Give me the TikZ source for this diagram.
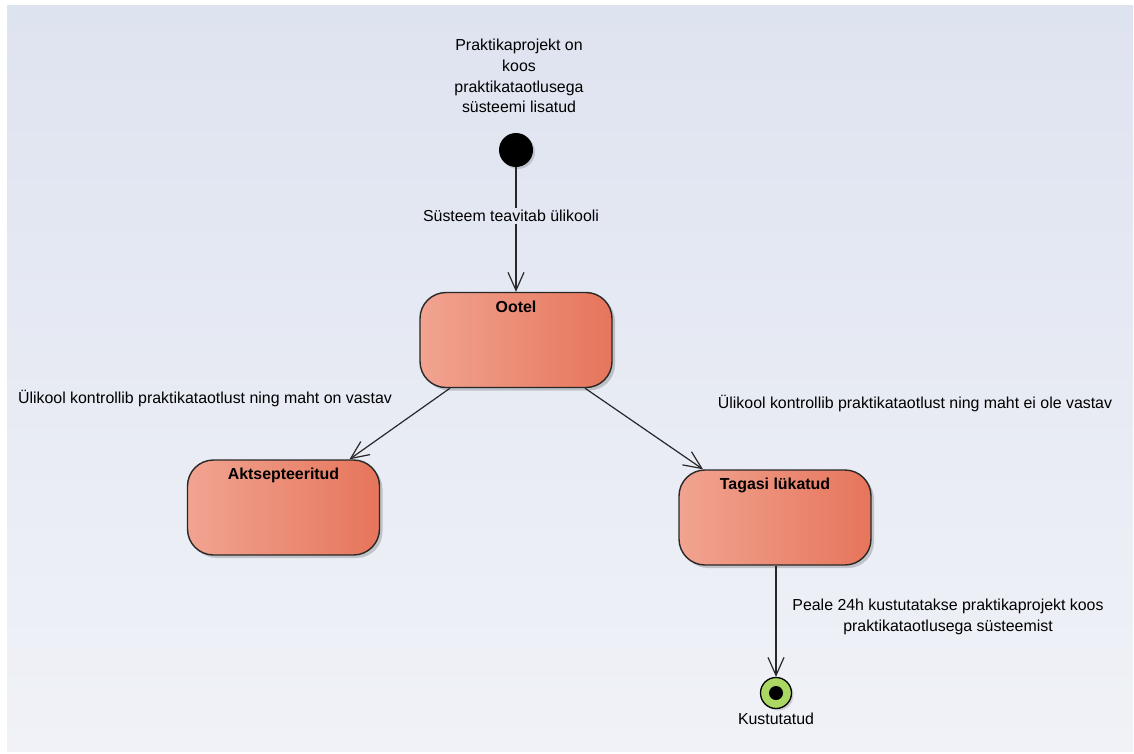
\documentclass[tikz,border=0pt]{standalone}
\usepackage{fontspec}
\setmainfont{Liberation Sans}
\usetikzlibrary{arrows.meta,calc,shadows}

\definecolor{bgtop}{RGB}{222,227,240}
\definecolor{bgbot}{RGB}{240,242,247}
\definecolor{stateL}{RGB}{241,164,145}
\definecolor{stateR}{RGB}{230,117,91}
\definecolor{finalgreen}{RGB}{170,216,98}
\definecolor{edgegray}{RGB}{40,40,40}

\tikzset{
  txt/.style={font=\fontsize{15.9}{20.7}\selectfont, align=center, inner sep=1pt},
  state/.style={draw=edgegray, line width=1.4pt, rounded corners=26pt,
    left color=stateL, right color=stateR,
    minimum width=192pt, minimum height=95pt,
    drop shadow={shadow xshift=3pt, shadow yshift=-3pt, opacity=0.18, fill=black}},
  statetitle/.style={font=\fontsize{15.9}{18}\selectfont\bfseries, anchor=north, inner sep=0pt},
  trans/.style={draw=edgegray, line width=1.2pt,
    -{Straight Barb[length=18pt,width=16pt,line width=1.2pt]}},
  initstate/.style={circle, fill=black, minimum size=34pt, inner sep=0pt,
    drop shadow={shadow xshift=2pt, shadow yshift=-2pt, opacity=0.15, fill=black}},
  finalstate/.style={circle, draw=black, line width=1.3pt, fill=finalgreen,
    minimum size=31pt, inner sep=0pt,
    drop shadow={shadow xshift=2pt, shadow yshift=-2pt, opacity=0.15, fill=black}},
}

\begin{document}
\begin{tikzpicture}[x=1pt, y=-1pt]
  \useasboundingbox (0,0) rectangle (1134,754);
  % canvas
  \shade[top color=bgtop, bottom color=bgbot] (7,6) rectangle (1133,751);

  % start
  \node[txt] (startlbl) at (519,76) {Praktikaprojekt on\\koos\\praktikataotlusega\\süsteemi lisatud};
  \node[initstate] (start) at (516,150) {};

  % states
  \node[state] (ootel) at (516,340) {};
  \node[statetitle] (ooteltitle) at ($(ootel.north)+(0,9)$) {Ootel};

  \node[state] (akts) at (283.5,507.5) {};
  \node[statetitle] (aktstitle) at ($(akts.north)+(0,8)$) {Aktsepteeritud};

  \node[state] (tagasi) at (775,517.5) {};
  \node[statetitle] (tagasititle) at ($(tagasi.north)+(0,8)$) {Tagasi lükatud};

  % end
  \node[finalstate] (final) at (776,693) {};
  \node[circle, fill=black, minimum size=14pt, inner sep=0pt] (finaldot) at (final.center) {};
  \node[txt] (finallbl) at (776,719) {Kustutatud};

  % transitions
  \draw[trans] (start) -- (ootel.north);
  \node[txt, fill={rgb,255:red,227;green,231;blue,242}, inner sep=2pt] (t1) at (511,216) {Süsteem teavitab ülikooli};

  \draw[trans] ($(ootel.south)+(-66,0)$) -- ($(akts.north)+(66,0)$);
  \node[txt] (t2) at (205,398) {Ülikool kontrollib praktikataotlust ning maht on vastav};

  \draw[trans] ($(ootel.south)+(69,0)$) -- ($(tagasi.north)+(-72,0)$);
  \node[txt] (t3) at (915,403) {Ülikool kontrollib praktikataotlust ning maht ei ole vastav};

  \draw[trans] ($(tagasi.south)+(1,0)$) -- (final.north);
  \node[txt] (t4) at (948,617) {Peale 24h kustutatakse praktikaprojekt koos\\praktikataotlusega süsteemist};
\end{tikzpicture}
\end{document}
